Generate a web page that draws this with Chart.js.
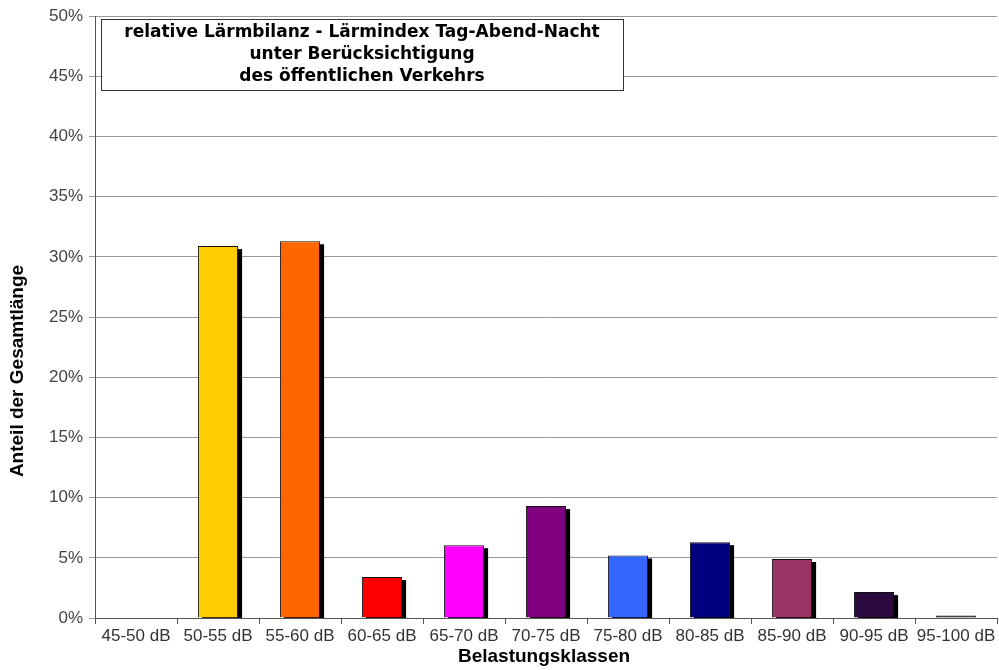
<!DOCTYPE html>
<html>
<head>
<meta charset="utf-8">
<script src="https://cdn.jsdelivr.net/npm/chart.js@4"></script>
<style>
  html, body { margin: 0; padding: 0; background: #fff; }
  #wrap { width: 999px; height: 670px; }
</style>
</head>
<body>
<div id="wrap"><canvas id="chart" width="999" height="670"></canvas></div>
<script>
const categories = ["45-50 dB", "50-55 dB", "55-60 dB", "60-65 dB", "65-70 dB", "70-75 dB",
  "75-80 dB", "80-85 dB", "85-90 dB", "90-95 dB", "95-100 dB"];
const shares = [0, 30.9, 31.3, 3.4, 6.05, 9.3, 5.2, 6.3, 4.9, 2.15, 0.2];
const barColors = ["#cccccc", "#ffcc00", "#ff6600", "#ff0000", "#ff00ff", "#800080",
  "#3366ff", "#000080", "#993366", "#2b0b3f", "#000000"];
const titleLines = ["relative Lärmbilanz - Lärmindex Tag-Abend-Nacht",
  "unter Berücksichtigung", "des öffentlichen Verkehrs"];
const xTitle = "Belastungsklassen";
const yTitle = "Anteil der Gesamtlänge";

// black drop shadow behind each bar, taken from the bar elements
const barShadow = {
  id: "barShadow",
  beforeDatasetsDraw(chart) {
    const ctx = chart.ctx;
    const area = chart.chartArea;
    ctx.save();
    ctx.beginPath();
    ctx.rect(area.left, area.top, area.right - area.left, area.bottom - area.top);
    ctx.clip();
    ctx.fillStyle = "#000";
    chart.getDatasetMeta(0).data.forEach((bar, i) => {
      if (!shares[i]) return;
      const w = bar.width;
      ctx.fillRect(bar.x - w / 2 + 4, bar.y + 3, w, bar.base - bar.y);
    });
    ctx.restore();
  }
};

// framed title box and the axis titles
const titles = {
  id: "titles",
  afterDraw(chart) {
    const ctx = chart.ctx;
    ctx.save();
    ctx.fillStyle = "#fff";
    ctx.fillRect(101, 19, 522, 71);
    ctx.strokeStyle = "#333";
    ctx.lineWidth = 1;
    ctx.strokeRect(101.5, 19.5, 522, 71);
    ctx.fillStyle = "#000";
    ctx.font = "bold 17px 'DejaVu Sans'";
    ctx.textAlign = "center";
    ctx.textBaseline = "middle";
    titleLines.forEach((t, i) => ctx.fillText(t, 362, 33 + i * 22));

    ctx.font = "bold 19px 'Liberation Sans'";
    ctx.fillText(xTitle, 544, 657);
    ctx.translate(18, 371);
    ctx.rotate(-Math.PI / 2);
    ctx.fillText(yTitle, 0, 0);
    ctx.restore();
  }
};

new Chart(document.getElementById("chart").getContext("2d"), {
  type: "bar",
  data: {
    labels: categories,
    datasets: [{
      data: shares,
      backgroundColor: barColors,
      borderColor: "#111",
      borderWidth: 1,
      barPercentage: 0.49,
      categoryPercentage: 1.0
    }]
  },
  options: {
    responsive: false,
    animation: false,
    layout: { padding: { top: 15, right: 2, left: 0, bottom: 0 } },
    plugins: { legend: { display: false }, tooltip: { enabled: false } },
    scales: {
      x: {
        afterFit(scale) { scale.height = 52; },
        grid: { drawOnChartArea: false, color: "#555", tickLength: 6, offset: true },
        border: { color: "#555" },
        ticks: { color: "#333", font: { family: "Liberation Sans", size: 17 }, padding: 2, maxRotation: 0 }
      },
      y: {
        min: 0, max: 50,
        afterFit(scale) { scale.width = 95; },
        grid: { color: "#999", tickLength: 6 },
        border: { color: "#555" },
        ticks: {
          stepSize: 5, color: "#444", padding: 6,
          font: { family: "Liberation Sans", size: 17 },
          callback: v => v + "%"
        }
      }
    }
  },
  plugins: [barShadow, titles]
});
</script>
</body>
</html>
